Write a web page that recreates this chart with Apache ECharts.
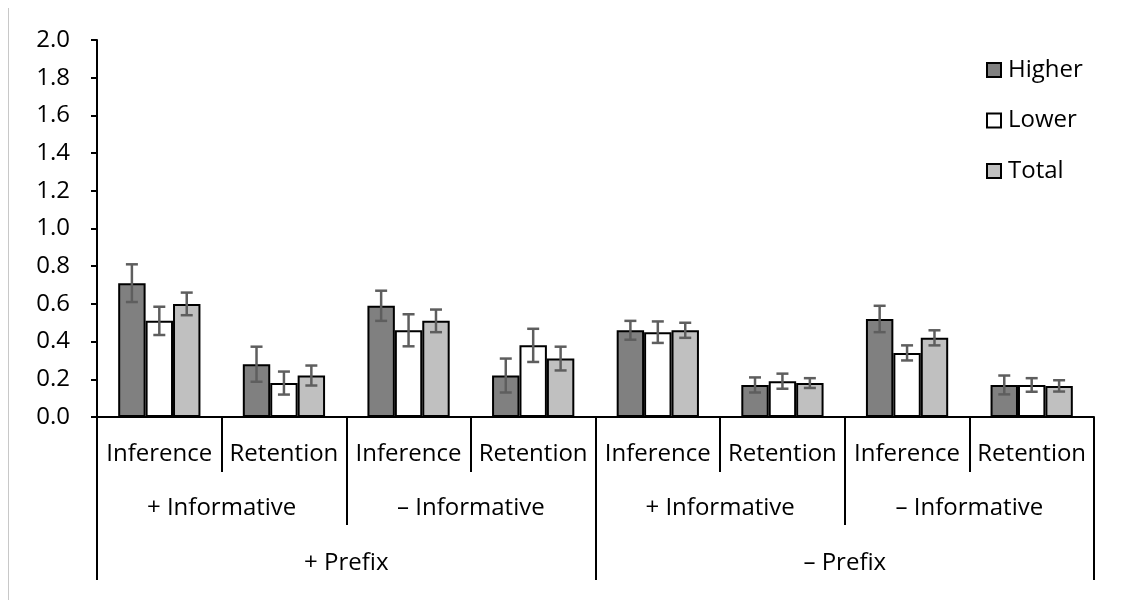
<!DOCTYPE html>
<html>
<head>
<meta charset="utf-8">
<script src="https://cdn.jsdelivr.net/npm/echarts@6/dist/echarts.min.js"></script>
<style>
  html, body { margin: 0; padding: 0; background: #fff; }
  #chart { width: 1121px; height: 600px; }
</style>
</head>
<body>
<div id="chart"></div>
<script>
// Three-level category labels
const tasks = ['Inference', 'Retention', 'Inference', 'Retention', 'Inference', 'Retention', 'Inference', 'Retention'];
const informativeGroups = ['+ Informative', '\u2013 Informative', '+ Informative', '\u2013 Informative'];
const prefixGroups = ['+ Prefix', '\u2013 Prefix'];

const seriesNames = ['Higher', 'Lower', 'Total'];

// Means per group
const higher = [0.71, 0.28, 0.59, 0.22, 0.46, 0.17, 0.52, 0.17];
const lower  = [0.51, 0.18, 0.46, 0.38, 0.45, 0.19, 0.34, 0.17];
const total  = [0.60, 0.22, 0.51, 0.31, 0.46, 0.18, 0.42, 0.165];

// Error bar half-widths
const higherErr = [0.10, 0.093, 0.08, 0.09, 0.05, 0.04, 0.07, 0.05];
const lowerErr  = [0.075, 0.061, 0.085, 0.088, 0.057, 0.04, 0.04, 0.036];
const totalErr  = [0.06, 0.053, 0.06, 0.063, 0.04, 0.026, 0.04, 0.03];

const yTicks = { min: 0, max: 2, interval: 0.2 };

const FONT = '"Open Sans", sans-serif';
const fills = ['#808080', '#ffffff', '#c0c0c0'];
const BAR_FRAC = 0.22;

const means = [higher, lower, total];
const errs = [higherErr, lowerErr, totalErr];

const barSeries = seriesNames.map((name, s) => ({
  name: name,
  type: 'bar',
  xAxisIndex: 0,
  yAxisIndex: 0,
  barWidth: (BAR_FRAC * 100) + '%',
  barGap: '0%',
  data: means[s],
  itemStyle: { color: fills[s], borderColor: '#000', borderWidth: 2 },
  z: 2
}));

const errorSeries = seriesNames.map((name, s) => ({
  name: name + ' error',
  type: 'custom',
  xAxisIndex: 0,
  yAxisIndex: 0,
  z: 5,
  silent: true,
  encode: { x: 0, y: [1, 2] },
  data: means[s].map((m, i) => [i, m - errs[s][i], m + errs[s][i]]),
  renderItem: function (params, api) {
    const i = api.value(0);
    const lo = api.coord([i, api.value(1)]);
    const hi = api.coord([i, api.value(2)]);
    const band = api.size([1, 0])[0];
    const x = lo[0] + (s - 1) * band * BAR_FRAC;
    const cap = 6;
    const style = { stroke: '#5e5e5e', lineWidth: 2.5 };
    return {
      type: 'group',
      children: [
        { type: 'line', shape: { x1: x, y1: lo[1], x2: x, y2: hi[1] }, style: style },
        { type: 'line', shape: { x1: x - cap, y1: lo[1], x2: x + cap, y2: lo[1] }, style: style },
        { type: 'line', shape: { x1: x - cap, y1: hi[1], x2: x + cap, y2: hi[1] }, style: style }
      ]
    };
  }
}));

const labelStyle = { fontFamily: FONT, fontSize: 24, color: '#000', lineHeight: 24 };

const option = {
  animation: false,
  backgroundColor: '#fff',
  grid: { left: 97, right: 27, top: 40, bottom: 183 },
  legend: {
    orient: 'vertical',
    left: 986,
    top: 58,
    padding: 0,
    itemWidth: 14,
    itemHeight: 14,
    itemGap: 26.5,
    icon: 'rect',
    data: seriesNames,
    textStyle: Object.assign({}, labelStyle, { padding: [0, 0, 0, 2] })
  },
  xAxis: [
    {
      type: 'category',
      data: tasks,
      position: 'bottom',
      axisLine: { show: true, lineStyle: { color: '#000', width: 2 } },
      axisTick: { show: true, interval: 0, length: 55, lineStyle: { color: '#000', width: 2 } },
      axisLabel: Object.assign({ interval: 0, margin: 25 }, labelStyle),
      splitLine: { show: false }
    },
    {
      type: 'category',
      data: informativeGroups,
      position: 'bottom',
      axisLine: { show: false },
      axisTick: { show: true, interval: 0, length: 108, lineStyle: { color: '#000', width: 2 } },
      axisLabel: Object.assign({ interval: 0, margin: 79 }, labelStyle),
      splitLine: { show: false }
    },
    {
      type: 'category',
      data: prefixGroups,
      position: 'bottom',
      axisLine: { show: false },
      axisTick: { show: true, interval: 0, length: 163, lineStyle: { color: '#000', width: 2 } },
      axisLabel: Object.assign({ interval: 0, margin: 134 }, labelStyle),
      splitLine: { show: false }
    }
  ],
  yAxis: {
    type: 'value',
    min: yTicks.min,
    max: yTicks.max,
    interval: yTicks.interval,
    axisLine: { show: true, lineStyle: { color: '#000', width: 2 } },
    axisTick: { show: true, length: 6, lineStyle: { color: '#000', width: 2 } },
    axisLabel: Object.assign({ margin: 27, formatter: v => v.toFixed(1) }, labelStyle),
    splitLine: { show: false }
  },
  graphic: [
    {
      type: 'line',
      shape: { x1: 8.5, y1: 8, x2: 8.5, y2: 600 },
      style: { stroke: '#c8c8c8', lineWidth: 1 },
      silent: true
    }
  ],
  series: barSeries.concat(errorSeries)
};

const chart = echarts.init(document.getElementById('chart'), null, { renderer: 'canvas' });
chart.setOption(option);
</script>
</body>
</html>
